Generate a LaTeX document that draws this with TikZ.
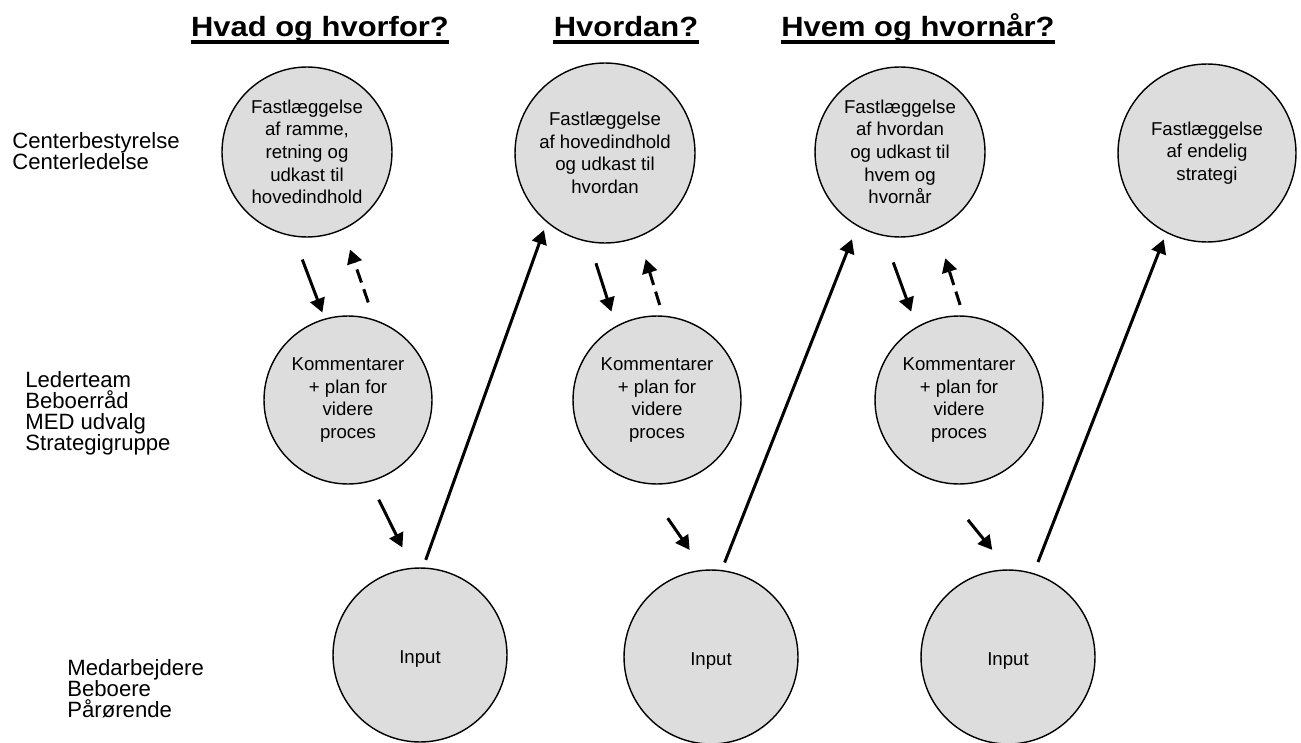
\documentclass[tikz,border=0pt]{standalone}
\usepackage{fontspec}
\setmainfont{Liberation Sans}
\usetikzlibrary{arrows.meta}

\definecolor{cirkelgraa}{RGB}{221,221,221}

\tikzset{
    fase/.style={circle, draw=black, line width=0.8pt, fill=cirkelgraa,
        inner sep=0pt, align=center, font=\fontsize{10.6}{12.9}\selectfont},
    pil/.style={-{Triangle[length=0.28cm,width=0.3cm]}, line width=1.7pt},
    retur/.style={pil, dash pattern=on 0.28cm off 0.14cm},
    gruppe/.style={anchor=west, align=left, inner sep=0pt, font=\fontsize{12.6}{12}\selectfont},
    overskrift/.style={anchor=base, inner sep=0pt, font=\bfseries\fontsize{17.6}{20}\selectfont}
}

\begin{document}
\begin{tikzpicture}[x=0.02cm, y=-0.02cm]

    \useasboundingbox (0,0) rectangle (1301,743);

    % Overskrifter (understreget)
    \node[overskrift] (t1) at (320,37) {\scalebox{1}[0.9]{Hvad og hvorfor?}};
    \node[overskrift] (t2) at (626,37) {\scalebox{1}[0.9]{Hvordan?}};
    \node[overskrift] (t3) at (918,37) {\scalebox{1}[0.9]{Hvem og hvornår?}};
    \foreach \t in {t1,t2,t3} {
        \draw[line width=1.8pt] ([yshift=-2.85pt]\t.base west) -- ([yshift=-2.85pt]\t.base east);
    }

    % Grupper i venstre side
    \node[gruppe] (g1) at (12,151) {Centerbestyrelse\\Centerledelse};
    \node[gruppe] (g2) at (25,413) {Lederteam\\Beboerråd\\MED udvalg\\Strategigruppe};
    \node[gruppe] (g3) at (67,689) {Medarbejdere\\Beboere\\Pårørende};

    % Øverste række (fastlæggelse)
    \node[fase, minimum size=3.4cm] (c1) at (307,152)
        {Fastlæggelse\\af ramme,\\retning og\\udkast til\\hovedindhold};
    \node[fase, minimum size=3.6cm] (c2) at (605,153)
        {Fastlæggelse\\af hovedindhold\\og udkast til\\hvordan};
    \node[fase, minimum size=3.4cm] (c3) at (900,152)
        {Fastlæggelse\\af hvordan\\og udkast til\\hvem og\\hvornår};
    \node[fase, minimum size=3.56cm] (c4) at (1207,153)
        {Fastlæggelse\\af endelig\\strategi};

    % Midterste række (kommentarer)
    \foreach \i/\x in {1/348, 2/657, 3/959} {
        \node[fase, minimum size=3.36cm] (m\i) at (\x,400)
            {Kommentarer\\+ plan for\\videre\\proces};
    }

    % Nederste række (input)
    \foreach \i/\x/\y in {1/420/655, 2/711/657, 3/1008/657} {
        \node[fase, minimum size=3.48cm, text height=12pt] (b\i) at (\x,\y) {Input};
    }

    % Hvad og hvorfor?
    \draw[pil, shorten <=0.49cm, shorten >=0.13cm] (c1.261) -- (m1.106);
    \draw[retur, shorten <=0.36cm, shorten >=0.42cm] (m1.72) -- (c1.295);
    \draw[pil, shorten <=0.4cm, shorten >=0.45cm] (m1.285) -- (b1.95);
    \draw[pil, shorten <=0.16cm, shorten >=0.16cm] (b1.88) -- (c2.230);

    % Hvordan?
    \draw[pil, shorten <=0.44cm, shorten >=0.3cm] (c2.260) -- (m2.119);
    \draw[retur, shorten <=0.22cm, shorten >=0.46cm] (m2.86) -- (c2.292);
    \draw[pil, shorten <=0.84cm, shorten >=0.48cm] (m2.261) -- (b2.95);
    \draw[pil, shorten <=0.16cm, shorten >=0.28cm] (b2.83) -- (c3.240);

    % Hvem og hvornår?
    \draw[pil, shorten <=0.56cm, shorten >=0.32cm] (c3.259) -- (m3.120);
    \draw[retur, shorten <=0.22cm, shorten >=0.6cm] (m3.87) -- (c3.295);
    \draw[pil, shorten <=0.98cm, shorten >=0.5cm] (m3.255) -- (b3.90);
    \draw[pil, shorten <=0.24cm, shorten >=0.14cm] (b3.73) -- (c4.243);

\end{tikzpicture}
\end{document}
